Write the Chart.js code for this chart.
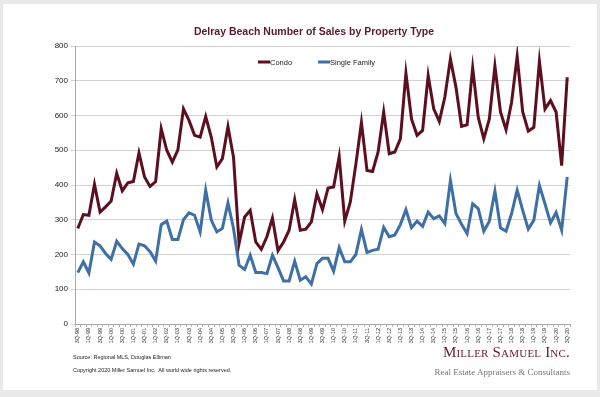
<!DOCTYPE html>
<html>
<head>
<meta charset="utf-8">
<script src="https://cdn.jsdelivr.net/npm/chart.js@4"></script>
<style>
  html, body { margin: 0; padding: 0; }
  body { width: 600px; height: 397px; background: #e9e9e9; position: relative; overflow: hidden; font-family: "Liberation Sans", Arial, sans-serif; }
  #panel { position: absolute; left: 3px; top: 4px; width: 594px; height: 386px; background: #ffffff; }
  #wrap { position: absolute; left: 0; top: 0; width: 600px; height: 397px; }
  #title { position: absolute; left: 0; width: 628px; top: 25px; text-align: center; font-weight: bold; font-size: 10.5px; color: #5a1a2a; }
  .foot { position: absolute; left: 73px; font-size: 5.5px; color: #222; }
  #logo1 { position: absolute; right: 30px; top: 344px; font-family: "Liberation Serif", "DejaVu Serif", serif; font-variant: small-caps; font-size: 15px; color: #6a1a28; letter-spacing: 0.2px; }
  #logo2 { position: absolute; right: 30px; top: 367px; font-family: "Liberation Serif", "DejaVu Serif", serif; font-size: 9px; color: #777; }
</style>
</head>
<body>
<div id="panel"></div>
<div id="wrap"><canvas id="c" width="600" height="397"></canvas></div>
<div id="title">Delray Beach Number of Sales by Property Type</div>
<div class="foot" style="top:354px">Source: Regional MLS, Douglas Elliman</div>
<div class="foot" style="top:367px">Copyright 2020 Miller Samuel Inc.&nbsp; All world wide rights reserved.</div>
<div id="logo1">Miller Samuel Inc.</div>
<div id="logo2">Real Estate Appraisers &amp; Consultants</div>
<script>
const quarters = [
  "3Q-98","4Q-98",
  "1Q-99","2Q-99","3Q-99","4Q-99",
  "1Q-00","2Q-00","3Q-00","4Q-00",
  "1Q-01","2Q-01","3Q-01","4Q-01",
  "1Q-02","2Q-02","3Q-02","4Q-02",
  "1Q-03","2Q-03","3Q-03","4Q-03",
  "1Q-04","2Q-04","3Q-04","4Q-04",
  "1Q-05","2Q-05","3Q-05","4Q-05",
  "1Q-06","2Q-06","3Q-06","4Q-06",
  "1Q-07","2Q-07","3Q-07","4Q-07",
  "1Q-08","2Q-08","3Q-08","4Q-08",
  "1Q-09","2Q-09","3Q-09","4Q-09",
  "1Q-10","2Q-10","3Q-10","4Q-10",
  "1Q-11","2Q-11","3Q-11","4Q-11",
  "1Q-12","2Q-12","3Q-12","4Q-12",
  "1Q-13","2Q-13","3Q-13","4Q-13",
  "1Q-14","2Q-14","3Q-14","4Q-14",
  "1Q-15","2Q-15","3Q-15","4Q-15",
  "1Q-16","2Q-16","3Q-16","4Q-16",
  "1Q-17","2Q-17","3Q-17","4Q-17",
  "1Q-18","2Q-18","3Q-18","4Q-18",
  "1Q-19","2Q-19","3Q-19","4Q-19",
  "1Q-20","2Q-20","3Q-20"
];

const condo = [
  275,315,
  313,402,322,337,
  354,434,383,406,
  410,492,423,396,
  410,562,500,466,
  501,619,586,543,
  538,597,538,452,
  476,568,480,232,
  308,327,236,215,
  251,305,211,236,
  270,358,270,273,
  294,375,329,391,
  394,482,296,351,
  460,580,442,439,
  495,610,490,495,
  533,722,590,543,
  557,715,619,583,
  653,763,681,569,
  573,737,595,533,
  590,742,610,559,
  638,770,610,555,
  566,756,619,643,
  610,456,710
];

const singleFamily = [
  148,179,
  147,236,225,203,
  186,238,217,200,
  172,230,225,208,
  181,286,296,243,
  243,300,320,313,
  265,385,299,265,
  275,349,275,169,
  157,198,148,148,
  145,198,162,124,
  124,181,126,136,
  115,174,189,189,
  152,220,179,179,
  200,272,206,212,
  215,278,251,256,
  286,329,277,296,
  281,322,303,311,
  289,413,318,287,
  260,346,332,267,
  296,382,277,267,
  318,385,327,273,
  299,399,346,291,
  321,270,423
];

const yTicks = [0,100,200,300,400,500,600,700,800];

// Legend drawn inside the plot area, horizontally, from the datasets
const inlineLegend = {
  id: 'inlineLegend',
  afterDraw(chart) {
    const c = chart.ctx;
    const area = chart.chartArea;
    const y = area.top + 16;
    const starts = [258, 318];
    c.save();
    c.font = '7.5px "Liberation Sans", Arial, sans-serif';
    c.textBaseline = 'middle';
    c.fillStyle = '#222';
    chart.data.datasets.forEach((ds, i) => {
      const x = starts[i];
      c.strokeStyle = ds.borderColor;
      c.lineWidth = 3;
      c.beginPath();
      c.moveTo(x, y);
      c.lineTo(x + 12, y);
      c.stroke();
      c.fillText(ds.label, x + 12, y + 0.5);
    });
    c.restore();
  }
};

const ctx = document.getElementById('c').getContext('2d');
new Chart(ctx, {
  type: 'line',
  data: {
    labels: quarters,
    datasets: [
      { label: 'Condo', data: condo, borderColor: '#5c0f1f', backgroundColor: '#5c0f1f', borderWidth: 3, pointRadius: 0, tension: 0 },
      { label: 'Single Family', data: singleFamily, borderColor: '#3e6fa5', backgroundColor: '#3e6fa5', borderWidth: 3, pointRadius: 0, tension: 0 }
    ]
  },
  plugins: [inlineLegend],
  options: {
    responsive: false,
    animation: false,
    layout: { padding: { left: 0, top: 46, right: 30, bottom: 0 } },
    plugins: {
      title: { display: false },
      tooltip: { enabled: false },
      legend: { display: false }
    },
    scales: {
      x: {
        offset: true,
        grid: { display: true, drawOnChartArea: false, drawTicks: true, tickLength: 3, color: '#b5b5b5', offset: true },
        border: { color: '#a8a8a8' },
        ticks: {
          autoSkip: false, maxRotation: 90, minRotation: 90, padding: 1,
          color: '#333',
          font: { family: '"Liberation Sans", Arial, sans-serif', size: 5.5 },
          callback: function(v, i) { return i % 2 === 0 ? quarters[i] : ''; }
        },
        afterFit: function(s) { s.height = 397 - 324; }
      },
      y: {
        min: 0, max: 800,
        afterBuildTicks: function(s) { s.ticks = yTicks.map(v => ({ value: v })); },
        grid: { color: '#d2d2d2', tickLength: 4, drawTicks: true },
        border: { color: '#a8a8a8' },
        ticks: {
          padding: 3, color: '#222',
          font: { family: '"Liberation Sans", Arial, sans-serif', size: 8 }
        },
        afterFit: function(s) { s.width = 75; }
      }
    }
  }
});
</script>
</body>
</html>
